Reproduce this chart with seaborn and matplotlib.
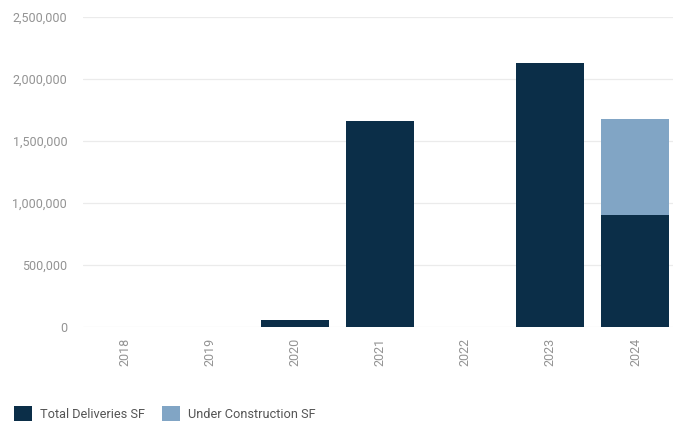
import matplotlib
matplotlib.use("Agg")
import matplotlib.pyplot as plt
import seaborn as sns
import pandas as pd
from matplotlib.patches import Patch
from matplotlib.ticker import FuncFormatter

years = ["2018", "2019", "2020", "2021", "2022", "2023", "2024"]
total_deliveries = [0, 0, 58000, 1660000, 0, 2130000, 905000]
under_construction = [0, 0, 0, 0, 0, 0, 772000]
y_ticks = [0, 500000, 1000000, 1500000, 2000000, 2500000]

dark = "#0b2e48"
light = "#81a5c5"
gray_text = "#939393"

sns.set_theme(style="white")
plt.rcParams["font.family"] = ["Roboto", "DejaVu Sans"]

df = pd.DataFrame({"year": years, "deliv": total_deliveries, "uc": under_construction})

fig = plt.figure(figsize=(6.73, 4.25), dpi=100)
ax = fig.add_axes([82.5 / 673, 1 - 327 / 425, (678 - 82.5) / 673, 310 / 425])

sns.barplot(data=df, x="year", y="deliv", color=dark, width=0.8, ax=ax,
            saturation=1, zorder=3, linewidth=0, edgecolor="none")
sns.barplot(data=df, x="year", y="uc", color=light, width=0.8, ax=ax,
            saturation=1, bottom=df["deliv"], zorder=3, linewidth=0,
            edgecolor="none")

ax.set_ylim(0, 2500000)
ax.set_xlim(-0.5, 6.5)
ax.set_yticks(y_ticks)
ax.yaxis.set_major_formatter(FuncFormatter(lambda v, p: f"{int(v):,}"))
ax.grid(axis="y", color="#ebebeb", linewidth=0.9, zorder=0)
ax.grid(axis="x", visible=False)
for s in ax.spines.values():
    s.set_visible(False)
ax.set_xlabel("")
ax.set_ylabel("")
ax.tick_params(axis="y", length=0, pad=11, labelsize=9, labelcolor=gray_text)
ax.tick_params(axis="x", length=0, pad=8, labelsize=9, labelcolor=gray_text,
               labelrotation=90)

handles = [Patch(facecolor=dark, edgecolor="none", label="Total Deliveries SF"),
           Patch(facecolor=light, edgecolor="none", label="Under Construction SF")]
fig.legend(handles=handles, loc="lower left", bbox_to_anchor=(0.004, -0.018),
           ncol=2, frameon=False, handlelength=1.4, handleheight=1.4,
           handletextpad=0.62, columnspacing=1.35,
           prop={"family": ["Roboto"], "size": 9.2},
           labelcolor="#555555")

fig.savefig("out.png", dpi=100)
